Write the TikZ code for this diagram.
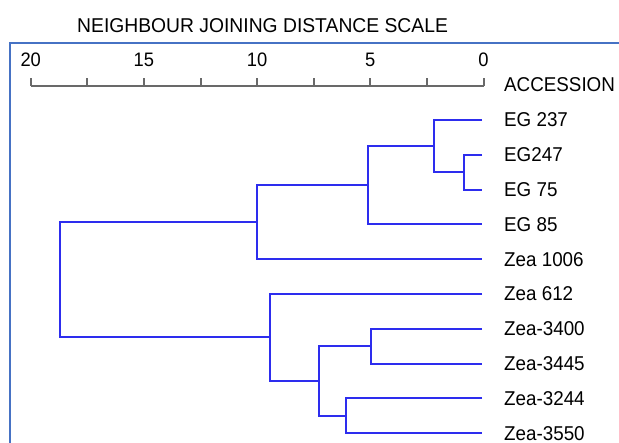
\documentclass[tikz,border=0pt]{standalone}
\usepackage{fontspec}
\setmainfont{Liberation Sans}
\definecolor{treeblue}{RGB}{45,45,238}
\definecolor{framecol}{RGB}{70,114,196}
\definecolor{scalegray}{RGB}{105,105,105}
\tikzset{
  branch/.style={draw=treeblue, line width=2pt, line join=miter},
  lab/.style={anchor=base west, inner sep=0pt, font=\fontsize{20}{24}\selectfont, text=black},
  num/.style={anchor=base, inner sep=0pt, font=\fontsize{19.5}{24}\selectfont, text=black},
  scaleline/.style={draw=scalegray, line width=2pt},
  framestyle/.style={draw=framecol, line width=1.2pt}
}
\newcommand{\sq}[1]{\scalebox{0.94}[1]{#1}}
\begin{document}
\begin{tikzpicture}[x=1pt, y=-1pt]
\useasboundingbox (0,0) rectangle (619,443);
\fill[white] (0,0) rectangle (619,443);
% frame
\draw[framestyle] (10,445) |- (621,43);
% title
\node[lab] (title) at (77,33) {\scalebox{0.965}[1]{NEIGHBOUR JOINING DISTANCE SCALE}};
% scale bar
\coordinate (s0) at (30.7,86);
\coordinate (s8) at (483.5,86);
\draw[scaleline] (s0) -- (s8);
\foreach \i in {0,...,8}{
  \coordinate (t\i) at ({30.7+56.6*\i},86);
  \draw[scaleline] (t\i) -- ++(0,-8);
}
\node[num] (n20) at (30.7,67) {\sq{20}};
\node[num] (n15) at (143.9,67) {\sq{15}};
\node[num] (n10l) at (257.1,67) {\sq{10}};
\node[num] (n5l) at (370.3,67) {\sq{5}};
\node[num] (n0) at (483.5,67) {\sq{0}};
\node[lab] (acc) at (504,92) {\sq{ACCESSION}};
% leaves
\foreach \i/\t in {0/EG 237,1/EG247,2/EG 75,3/EG 85,4/Zea 1006,5/Zea 612,6/Zea-3400,7/Zea-3445,8/Zea-3244,9/Zea-3550}{
  \coordinate (L\i) at (482,{120+34.8*\i});
  \node[lab] (T\i) at (504,{127+34.8*\i}) {\sq{\t}};
}
% internal nodes
\coordinate (a47) at (463.5,172.2);
\coordinate (a37) at (434,146.1);
\coordinate (a5) at (368,185.25);
\coordinate (a10) at (257,222.2);
\coordinate (b34) at (370.5,346);
\coordinate (b35) at (345.5,415.6);
\coordinate (bin) at (318.5,380.8);
\coordinate (b612) at (270,337.1);
\coordinate (root) at (60,279.7);
% branches
\draw[branch] (L1) -| (a47) |- (L2);
\draw[branch] (L0) -| (a37) |- (a47);
\draw[branch] (a37) -| (a5) |- (L3);
\draw[branch] (a5) -| (a10) |- (L4);
\draw[branch] (L6) -| (b34) |- (L7);
\draw[branch] (L8) -| (b35) |- (L9);
\draw[branch] (b34) -| (bin) |- (b35);
\draw[branch] (L5) -| (b612) |- (bin);
\draw[branch] (a10) -| (root) |- (b612);
\end{tikzpicture}
\end{document}
